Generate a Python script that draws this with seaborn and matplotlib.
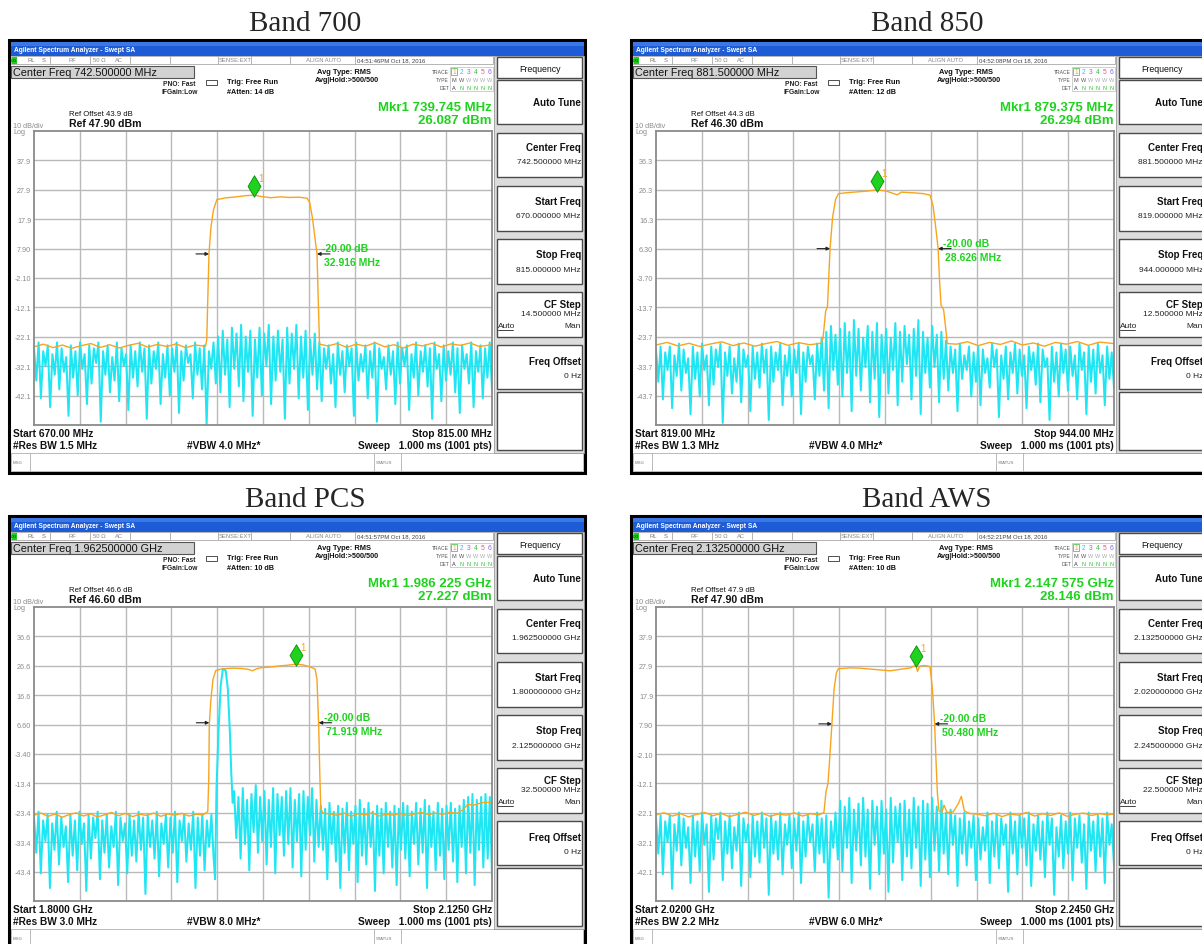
import numpy as np
import matplotlib
matplotlib.use("Agg")
import matplotlib.pyplot as plt
from matplotlib.patches import Rectangle
import seaborn as sns

W, H = 1202, 945

# ---- per band settings ----
titles = ["Band 700", "Band 850", "Band PCS", "Band AWS"]
start_mhz = [670.0, 819.0, 1800.0, 2020.0]
stop_mhz = [815.0, 944.0, 2125.0, 2245.0]
ref_dbm = [47.90, 46.30, 46.60, 47.90]
ytick_labels = [
    ["37.9", "27.9", "17.9", "7.90", "-2.10", "-12.1", "-22.1", "-32.1", "-42.1"],
    ["36.3", "26.3", "16.3", "6.30", "-3.70", "-13.7", "-23.7", "-33.7", "-43.7"],
    ["36.6", "26.6", "16.6", "6.60", "-3.40", "-13.4", "-23.4", "-33.4", "-43.4"],
    ["37.9", "27.9", "17.9", "7.90", "-2.10", "-12.1", "-22.1", "-32.1", "-42.1"],
]
mkr_mhz = [739.745, 879.375, 1986.225, 2147.575]
mkr_dbm = [26.087, 26.294, 27.227, 28.146]
obw_edges = [(725.4, 759.6), (866.5, 896.0), (1924.4, 2002.0), (2106.4, 2156.9)]

center_txt = ["742.500000 MHz", "881.500000 MHz", "1.962500000 GHz", "2.132500000 GHz"]
time_txt = ["04:51:46PM Oct 18, 2016", "04:52:08PM Oct 18, 2016",
            "04:51:57PM Oct 18, 2016", "04:52:21PM Oct 18, 2016"]
atten_txt = ["14 dB", "12 dB", "10 dB", "10 dB"]
ref_offset_txt = ["43.9", "44.3", "46.6", "47.9"]
ref_txt = ["47.90", "46.30", "46.60", "47.90"]
mkr_freq_txt = ["739.745 MHz", "879.375 MHz", "1.986 225 GHz", "2.147 575 GHz"]
mkr_lvl_txt = ["26.087 dBm", "26.294 dBm", "27.227 dBm", "28.146 dBm"]
obw_txt = ["32.916 MHz", "28.626 MHz", "71.919 MHz", "50.480 MHz"]
start_txt = ["670.00 MHz", "819.00 MHz", "1.8000 GHz", "2.0200 GHz"]
stop_txt = ["815.00 MHz", "944.00 MHz", "2.1250 GHz", "2.2450 GHz"]
rbw_txt = ["1.5 MHz", "1.3 MHz", "3.0 MHz", "2.2 MHz"]
vbw_txt = ["4.0 MHz*", "4.0 MHz*", "8.0 MHz*", "6.0 MHz*"]
sk_start = ["670.000000 MHz", "819.000000 MHz", "1.800000000 GHz", "2.020000000 GHz"]
sk_stop = ["815.000000 MHz", "944.000000 MHz", "2.125000000 GHz", "2.245000000 GHz"]
sk_step = ["14.500000 MHz", "12.500000 MHz", "32.500000 MHz", "22.500000 MHz"]

# ---- orange (max hold) traces ----
orange_700_f = list(range(670, 722, 3)) + [724.3,
    724.7, 725.0, 725.4, 726.0, 726.8, 727.9, 731, 734, 737, 739.7, 742, 745, 748, 751, 754, 756.5,
    757.3, 758.2, 759.0, 759.6, 760.0, 760.4] + list(range(763, 812, 3)) + [815]
orange_700_v = [-25.5, -24.6, -25.8, -24.9, -26.0, -25.1, -24.4, -25.7, -24.8, -25.9, -25.0, -24.3,
                -25.6, -24.7, -25.4, -24.5, -25.8, -24.9, -25.3,
                -23, -10, 6.1, 15, 21, 24.6, 25.2, 25.5, 25.9, 26.1, 25.6, 25.2, 25.5, 25.3, 25.4, 25.0,
                23.5, 18, 11, 6.1, -10, -24.6,
                -25.2, -24.4, -25.7, -24.6, -25.3, -24.1, -25.5, -24.8, -25.9, -24.6, -25.2, -24.3,
                -25.6, -24.5, -25.0, -24.2, -25.4, -24.8]

orange_850_f = list(range(819, 865, 3)) + [
    864.6, 865.3, 865.8, 866.1, 866.5, 867.2, 868.0, 868.8, 871, 874, 877, 879.4, 882, 884.8, 886, 889, 892, 893.8,
    894.6, 895.3, 896.0, 896.4, 896.8, 897.5, 898.0, 898.5] + list(range(901, 941, 3)) + [944]
orange_850_v = [-26.5, -25.6, -26.8, -25.9, -27.0, -26.1, -25.4, -26.7, -25.8, -26.9, -26.0, -25.3,
                -26.6, -25.7, -26.4, -25.9,
                -24, -15, -13.5, -5, 6.3, 17, 23, 25.0, 25.3, 25.6, 25.9, 26.3, 25.8, 24.6, 25.5, 25.3, 25.0, 24.5,
                21, 14, 6.3, -5, -13, -14.5, -20, -26,
                -26.2, -25.4, -26.7, -25.6, -26.3, -25.1, -26.5, -25.8, -26.9, -25.6, -26.2, -25.3,
                -26.6, -25.5, -26.0]

orange_pcs_f = list(range(1800, 1921, 5)) + [
    1923.3, 1924.0, 1924.4, 1925.5, 1927.0, 1929.0, 1933, 1940, 1947, 1952, 1955, 1958, 1962, 1968,
    1975, 1980, 1986.2, 1991, 1996, 1999.5,
    2000.8, 2002.0, 2002.8, 2003.5, 2005] + list(range(2010, 2101, 5)) + [2104, 2108, 2112, 2116, 2120, 2125]
orange_pcs_v = [-24.2, -23.5, -24.6, -23.8, -24.9, -24.0, -23.4, -24.5, -23.7, -24.8, -24.1, -23.3,
                -24.4, -23.6, -24.7, -23.9, -24.3, -23.5, -24.6, -23.8, -24.2, -23.6, -24.5, -23.9, -24.1,
                -23, -12, 6.6, 15, 22, 25.0, 25.5, 25.8, 25.7, 25.4, 24.9, 25.6, 26.0, 26.2, 26.6, 26.8,
                27.2, 26.9, 26.2, 25.5,
                22, 6.6, -10, -22, -23.5,
                -23.8, -24.3, -23.5, -24.6, -23.7, -24.1, -23.4, -24.5, -23.9, -24.2, -23.6, -24.4,
                -23.8, -23.3, -24.0, -23.5, -23.9, -23.2, -23.6,
                -22.5, -20.5, -20.8, -20.2, -19.8, -20.0]

orange_aws_f = list(range(2020, 2101, 4)) + [
    2102.5, 2103.5, 2104.5, 2105.2, 2106.4, 2107.5, 2108.6, 2109.6, 2115, 2120, 2125, 2130, 2135, 2140,
    2145, 2147.6, 2148.5, 2149.5, 2152, 2154.6,
    2155.8, 2156.9, 2157.6, 2158.2, 2159.0, 2160.5, 2161.5, 2163, 2166, 2168.5, 2170, 2171.5, 2174
] + list(range(2178, 2243, 4)) + [2245]
orange_aws_v = [-22.8, -22.1, -23.2, -22.4, -23.5, -22.6, -22.0, -23.1, -22.3, -23.4, -22.7, -21.9,
                -23.0, -22.2, -23.3, -22.5, -22.9, -22.1, -23.2, -22.4, -22.8,
                -22, -15, -12, -5, 7.9, 20, 25.5, 26.9, 27.2, 27.1, 26.8, 26.5, 26.2, 26.7, 27.2, 28.1,
                26.0, 27.8, 28.0, 27.6,
                20, 7.9, -5, -15, -21.5, -21.8, -19.5, -22, -21.8, -19, -16.5, -21.5, -22.3,
                -22.6, -23.1, -22.2, -23.4, -22.5, -22.9, -22.0, -23.2, -22.4, -23.0, -22.1, -23.3,
                -22.6, -22.2, -23.0, -22.4, -22.8, -22.5]

# ---- cyan (clear/write) traces, levels in dBm across the sweep ----
cyan_700 = [
    -26, -37, -24, -43, -27, -32, -25, -46, -28, -35, -24, -40, -26, -34, -29, -49, -25, -36, -27, -42,
    -24, -33, -28, -45, -25, -38, -26, -31, -24, -51, -27, -35, -25, -41, -29, -37, -24, -44, -26, -32,
    -28, -47, -25, -36, -27, -39, -24, -34, -26, -50, -25, -38, -27, -33, -24, -45, -28, -36, -25, -42,
    -26, -34, -24, -48, -27, -37, -25, -31, -28, -43, -24, -35, -26, -40, -25, -52, -27, -33, -24, -38,
    -22, -41, -20, -35, -23, -46, -19, -33, -21, -39, -18, -44, -22, -34, -20, -49, -23, -36, -19, -42,
    -21, -32, -18, -45, -22, -37, -20, -34, -23, -50, -19, -38, -21, -33, -18, -43, -22, -36, -20, -47,
    -23, -35, -21, -40, -24, -44, -26, -33, -25, -38, -28, -46, -24, -35, -27, -41, -25, -32, -26, -49,
    -24, -37, -28, -34, -25, -43, -27, -36, -24, -51, -26, -33, -29, -40, -25, -35, -27, -45, -24, -38,
    -26, -32, -25, -47, -28, -36, -24, -42, -27, -34, -25, -39, -26, -50, -24, -33, -28, -44, -25, -37,
    -27, -35, -24, -41, -26, -48, -25, -33, -28, -38, -24, -46, -27, -34, -25, -43, -26, -36, -24, -40]
cyan_850 = [
    -28, -39, -27, -45, -29, -35, -27, -48, -30, -37, -26, -42, -28, -36, -31, -50, -27, -38, -29, -44,
    -26, -35, -30, -47, -27, -40, -28, -34, -26, -53, -29, -37, -27, -43, -31, -39, -26, -46, -28, -34,
    -30, -49, -27, -38, -29, -41, -26, -36, -28, -52, -27, -39, -29, -35, -26, -47, -30, -37, -27, -44,
    -28, -36, -26, -50, -29, -39, -27, -33, -30, -45, -26, -37, -24, -42, -22, -48, -20, -35, -23, -40,
    -21, -44, -19, -36, -22, -49, -18, -37, -21, -42, -24, -34, -20, -46, -22, -38, -19, -51, -23, -36,
    -21, -43, -24, -35, -19, -47, -22, -39, -20, -33, -23, -45, -21, -37, -18, -50, -22, -36, -24, -41,
    -20, -34, -23, -46, -22, -38, -25, -42, -27, -36, -28, -49, -26, -38, -30, -35, -27, -44, -29, -39,
    -27, -47, -28, -36, -31, -41, -26, -34, -28, -51, -30, -38, -27, -45, -29, -36, -26, -43, -28, -37,
    -30, -48, -27, -35, -29, -40, -26, -46, -28, -34, -31, -52, -27, -39, -29, -44, -26, -36, -28, -42,
    -27, -37, -30, -45, -26, -35, -29, -50, -27, -39, -28, -43, -26, -36, -30, -47, -27, -38, -29, -41]
cyan_pcs_left = [
    -25, -37, -23, -44, -26, -33, -24, -49, -27, -36, -23, -41, -25, -35, -28, -47, -24, -38, -26, -43,
    -23, -34, -27, -50, -24, -39, -25, -32, -23, -46, -26, -37, -24, -42, -28, -35, -23, -48, -25, -33,
    -27, -44, -24, -38, -26, -40, -23, -36, -25, -51, -24, -35, -26, -39, -23, -45, -27, -34, -24, -42,
    -25, -37, -23, -47, -26, -33, -24, -40, -27, -36, -23, -49, -25, -38, -24, -43, -26, -35, -24, -39]
cyan_pcs_bump_f = [1928.5, 1929.5, 1931, 1932.5, 1934, 1936, 1937.5, 1939, 1940, 1941]
cyan_pcs_bump_v = [-46, -15, 5, 20, 25.5, 25, 19, 4, -10, -20]
cyan_pcs_right = [
    -16, -32, -18, -39, -15, -34, -19, -43, -17, -30, -14, -37, -18, -33, -16, -41, -19, -35, -15, -44,
    -17, -31, -18, -38, -16, -34, -15, -42, -19, -33, -17, -45, -16, -36, -18, -31, -15, -40, -19, -35,
    -21, -36, -22, -46, -20, -34, -23, -40, -21, -49, -22, -37, -20, -43, -23, -34, -21, -47, -19, -38,
    -22, -41, -20, -35, -23, -50, -21, -38, -22, -44, -20, -35, -23, -42, -21, -48, -22, -36, -20, -39,
    -21, -45, -23, -34, -20, -41, -22, -37, -19, -49, -21, -35, -23, -43, -20, -38, -22, -46, -21, -36,
    -20, -40, -22, -47, -21, -35, -19, -44, -18, -37, -17, -48, -19, -36, -18, -42, -17, -39, -18, -45]
cyan_aws = [
    -24, -36, -23, -43, -25, -32, -23, -48, -26, -35, -22, -40, -24, -34, -27, -46, -23, -37, -25, -42,
    -22, -33, -26, -49, -23, -38, -24, -31, -22, -45, -25, -36, -23, -41, -27, -35, -22, -47, -24, -32,
    -26, -44, -23, -37, -25, -39, -22, -34, -24, -50, -23, -36, -25, -38, -22, -43, -26, -33, -23, -41,
    -24, -35, -22, -46, -25, -37, -23, -32, -26, -42, -22, -36, -24, -39, -23, -51, -25, -34, -22, -38,
    -18, -42, -20, -34, -17, -46, -21, -35, -19, -40, -17, -37, -21, -48, -18, -33, -20, -43, -18, -36,
    -21, -49, -17, -39, -20, -32, -19, -45, -18, -37, -21, -41, -17, -34, -20, -47, -18, -38, -19, -44,
    -17, -35, -20, -42, -18, -36, -22, -43, -21, -33, -23, -47, -24, -36, -22, -40, -25, -34, -23, -45,
    -24, -38, -27, -35, -22, -46, -25, -37, -23, -41, -24, -33, -26, -49, -22, -36, -25, -43, -23, -34,
    -24, -40, -22, -47, -26, -35, -23, -38, -25, -44, -22, -33, -24, -50, -27, -37, -23, -41, -25, -36,
    -22, -45, -24, -34, -23, -39, -26, -48, -22, -35, -25, -42, -23, -37, -24, -46, -22, -33, -26, -40]

orange_f = [orange_700_f, orange_850_f, orange_pcs_f, orange_aws_f]
orange_v = [orange_700_v, orange_850_v, orange_pcs_v, orange_aws_v]
cyan_f = [np.linspace(670, 815, len(cyan_700)),
          np.linspace(819, 944, len(cyan_850)),
          np.concatenate([np.linspace(1800, 1927.5, len(cyan_pcs_left)), cyan_pcs_bump_f,
                          np.linspace(1942, 2125, len(cyan_pcs_right))]),
          np.linspace(2020, 2245, len(cyan_aws))]
cyan_v = [cyan_700, cyan_850, cyan_pcs_left + cyan_pcs_bump_v + cyan_pcs_right, cyan_aws]

origins = [(9, 41), (631, 41), (9, 517), (631, 517)]

ORANGE = "#f7a51f"
CYAN = "#1fe6f2"
GREEN = "#1ed21e"

sns.set_style("white")
SANS = ["Liberation Sans", "DejaVu Sans"]
SERIF = ["Liberation Serif", "DejaVu Serif"]
plt.rcParams["font.family"] = SANS


def txt(ax, x, y, s, size, color="black", ha="left", weight="normal", family=None):
    ax.text(x, y, s, fontsize=size, color=color, ha=ha, va="center",
            fontweight=weight, family=family or SANS, zorder=5)


def box(ax, x, y, w, h, fc, ec="none", lw=0.8, z=2):
    ax.add_patch(Rectangle((x, y), w, h, facecolor=fc, edgecolor=ec, lw=lw, zorder=z))


def draw_chrome(bg, ox, oy, i):
    bg.text(ox + 296, oy - 10, titles[i], fontsize=21, family=SERIF, ha="center", va="baseline")
    box(bg, ox, oy, 576, 433, "white", "black", 2.2, 1)
    # title bar
    box(bg, ox + 1.5, oy + 1.5, 573, 14, "#1d5cd6")
    box(bg, ox + 1.5, oy + 1.5, 573, 4, "#3a78e6")
    txt(bg, ox + 5, oy + 9, "Agilent Spectrum Analyzer - Swept SA", 4.8, "white", weight="bold")
    # status row
    box(bg, ox + 2, oy + 16, 482, 8, "white", "#a8a8a8", 0.6)
    box(bg, ox + 2.5, oy + 16.5, 5, 7, "#22cc22", z=3)
    txt(bg, ox + 5, oy + 20, "LXI", 2.8, "#003300", ha="center")
    txt(bg, ox + 18, oy + 20, "RL", 4.2, "#777777")
    txt(bg, ox + 33, oy + 20, "S", 4.2, "#777777")
    for dx in (41, 81, 121, 161, 209, 242, 281, 346):
        bg.plot([ox + dx, ox + dx], [oy + 16, oy + 24], color="#a8a8a8", lw=0.6, zorder=3)
    txt(bg, ox + 63, oy + 20, "RF", 4.2, "#888888", ha="center")
    txt(bg, ox + 90, oy + 20, "50 Ω", 4.2, "#888888", ha="center")
    txt(bg, ox + 110, oy + 20, "AC", 4.2, "#888888", ha="center")
    txt(bg, ox + 226, oy + 20, "SENSE:EXT", 4.2, "#888888", ha="center")
    txt(bg, ox + 314, oy + 20, "ALIGN AUTO", 4.2, "#888888", ha="center")
    txt(bg, ox + 348, oy + 20, time_txt[i], 4.3, "#444444")
    # header area
    box(bg, ox + 1.5, oy + 26, 183, 12, "#d2d2d2", "#555555", 0.8)
    txt(bg, ox + 4, oy + 32, "Center Freq " + center_txt[i], 7.8, "#111111")
    txt(bg, ox + 154, oy + 43, "PNO: Fast", 4.8, "#222222", weight="bold")
    box(bg, ox + 197, oy + 40, 11, 5, "white", "#333333", 0.6, 3)
    txt(bg, ox + 152, oy + 52, "IFGain:Low", 4.8, "#222222", weight="bold")
    txt(bg, ox + 218, oy + 41, "Trig: Free Run", 5.4, "#111111", weight="bold")
    txt(bg, ox + 218, oy + 51, "#Atten: " + atten_txt[i], 5.2, "#111111", weight="bold")
    txt(bg, ox + 308, oy + 32, "Avg Type: RMS", 5.4, "#111111", weight="bold")
    txt(bg, ox + 306, oy + 40, "Avg|Hold:>500/500", 5.2, "#111111", weight="bold")
    txt(bg, ox + 440, oy + 31, "TRACE", 3.6, "#555555", ha="right")
    txt(bg, ox + 440, oy + 39, "TYPE", 3.6, "#555555", ha="right")
    txt(bg, ox + 440, oy + 47, "DET", 3.6, "#555555", ha="right")
    box(bg, ox + 441, oy + 27, 43, 24, "white", "#bbbbbb", 0.5)
    box(bg, ox + 442, oy + 27.5, 6, 7, "white", "#30c030", 0.5, 3)
    trace_cols = ["#f0a020", "#20c8f0", "#e040e0", "#30c030", "#f05080", "#8060f0"]
    for k, c in enumerate(trace_cols):
        xk = ox + 445 + 7.2 * k
        txt(bg, xk, oy + 31, str(k + 1), 4.8, c, ha="center")
        txt(bg, xk, oy + 39, "M" if k == 0 else "W", 4.0, "#555555" if k < 2 else "#aaaaaa", ha="center")
        txt(bg, xk, oy + 47, "A" if k == 0 else "N", 4.0, "#333333" if k == 0 else "#30c030", ha="center")
    txt(bg, ox + 483, oy + 67, "Mkr1 " + mkr_freq_txt[i], 9.5, GREEN, ha="right", weight="bold")
    txt(bg, ox + 483, oy + 80, mkr_lvl_txt[i], 9.5, GREEN, ha="right", weight="bold")
    txt(bg, ox + 60, oy + 73, "Ref Offset " + ref_offset_txt[i] + " dB", 5.6, "#111111")
    txt(bg, ox + 60, oy + 83, "Ref " + ref_txt[i] + " dBm", 7.6, "#111111", weight="bold")
    txt(bg, ox + 4, oy + 85, "10 dB/div", 5.2, "#8a8a8a")
    txt(bg, ox + 4, oy + 91, "Log", 5.2, "#8a8a8a")
    # bottom annotations
    txt(bg, ox + 4, oy + 393, "Start " + start_txt[i], 7.3, "#111111", weight="bold")
    txt(bg, ox + 4, oy + 405, "#Res BW " + rbw_txt[i], 7.3, "#111111", weight="bold")
    txt(bg, ox + 178, oy + 405, "#VBW " + vbw_txt[i], 7.3, "#111111", weight="bold")
    txt(bg, ox + 483, oy + 393, "Stop " + stop_txt[i], 7.3, "#111111", ha="right", weight="bold")
    txt(bg, ox + 483, oy + 405, "Sweep   1.000 ms (1001 pts)", 7.3, "#111111", ha="right", weight="bold")
    # message bar
    box(bg, ox + 2, oy + 413, 572, 18, "white", "#b0b0b0", 0.6)
    for dx in (21, 365, 392):
        bg.plot([ox + dx, ox + dx], [oy + 413, oy + 431], color="#b0b0b0", lw=0.6, zorder=3)
    txt(bg, ox + 4, oy + 422, "MSG", 3.2, "#777777")
    txt(bg, ox + 367, oy + 422, "STATUS", 3.2, "#777777")
    # softkey panel
    box(bg, ox + 485, oy + 16, 89.5, 397, "#dcdcdc", "#9a9a9a", 0.6)
    keys = [(17, 38), (40, 84), (93, 137), (146, 191), (199, 244), (252, 297), (305, 349), (352, 410)]
    for y0, y1 in keys:
        box(bg, ox + 488, oy + y0, 85, y1 - y0, "white", "#4a4a4a", 1.0, 3)
    txt(bg, ox + 531, oy + 28, "Frequency", 6.3, "#111111", ha="center")
    rx = ox + 572
    txt(bg, rx, oy + 62, "Auto Tune", 7.0, "#111111", ha="right", weight="bold")
    txt(bg, rx, oy + 107, "Center Freq", 7.0, "#111111", ha="right", weight="bold")
    txt(bg, rx, oy + 122, center_txt[i], 6.0, "#222222", ha="right")
    txt(bg, rx, oy + 161, "Start Freq", 7.0, "#111111", ha="right", weight="bold")
    txt(bg, rx, oy + 176, sk_start[i], 6.0, "#222222", ha="right")
    txt(bg, rx, oy + 214, "Stop Freq", 7.0, "#111111", ha="right", weight="bold")
    txt(bg, rx, oy + 229, sk_stop[i], 6.0, "#222222", ha="right")
    txt(bg, rx, oy + 264, "CF Step", 7.0, "#111111", ha="right", weight="bold")
    txt(bg, rx, oy + 274, sk_step[i], 6.0, "#222222", ha="right")
    txt(bg, ox + 489, oy + 285, "Auto", 6.0, "#222222")
    bg.plot([ox + 489, ox + 504], [oy + 289.5, oy + 289.5], color="#222222", lw=0.6, zorder=5)
    txt(bg, rx, oy + 285, "Man", 6.0, "#222222", ha="right")
    txt(bg, rx, oy + 321, "Freq Offset", 7.0, "#111111", ha="right", weight="bold")
    txt(bg, rx, oy + 336, "0 Hz", 6.0, "#222222", ha="right")


def draw_traces(ax, i):
    ref = ref_dbm[i]
    sns.lineplot(x=cyan_f[i], y=cyan_v[i], ax=ax, color=CYAN, lw=1.45,
                 estimator=None, sort=False, legend=False)
    sns.lineplot(x=orange_f[i], y=orange_v[i], ax=ax, color=ORANGE, lw=1.0,
                 estimator=None, sort=False, legend=False)
    ax.set_xlim(start_mhz[i], stop_mhz[i])
    ax.set_ylim(ref - 100, ref)
    ax.set_xticks(np.linspace(start_mhz[i], stop_mhz[i], 11)[1:-1])
    ax.set_xticklabels([])
    ax.set_yticks([ref - 10 * k for k in range(1, 10)])
    ax.set_yticklabels(ytick_labels[i])
    ax.tick_params(length=0, labelsize=5.2, labelcolor="#8c8c8c", pad=2)
    ax.grid(True, color="#b9b9b9", lw=1.0)
    ax.set_axisbelow(True)
    for sp in ax.spines.values():
        sp.set_color("#8a8a8a")
        sp.set_linewidth(1.3)
    ax.set_xlabel("")
    ax.set_ylabel("")

    # marker 1
    mf, md = mkr_mhz[i], mkr_dbm[i]
    sns.scatterplot(x=[mf], y=[md + 3.1], ax=ax, marker="d", s=120, color=GREEN,
                    edgecolor="#0b8a0b", linewidth=0.6, zorder=6, legend=False)
    ax.annotate("1", xy=(mf, md + 3.1), xytext=(7, 8), textcoords="offset pixels",
                color=ORANGE, fontsize=7, ha="center", va="center")

    # occupied bandwidth arrows at -20 dB
    lvl = md - 20
    lo, hi = obw_edges[i]
    arr = dict(arrowstyle="-|>", color="#222222", lw=0.8, mutation_scale=5, shrinkA=0, shrinkB=0)
    ax.annotate("", xy=(lo, lvl), xytext=(-13, 0), textcoords="offset pixels", arrowprops=arr)
    ax.annotate("", xy=(hi, lvl), xytext=(13, 0), textcoords="offset pixels", arrowprops=arr)
    ax.annotate("-20.00 dB", xy=(hi, lvl), xytext=(5, 6), textcoords="offset pixels",
                color=GREEN, fontsize=7.5, fontweight="bold", va="center")
    ax.annotate(obw_txt[i], xy=(hi, lvl), xytext=(7, -8), textcoords="offset pixels",
                color=GREEN, fontsize=7.5, fontweight="bold", va="center")


fig = plt.figure(figsize=(W / 100, H / 100), dpi=100)
bg = fig.add_axes([0, 0, 1, 1])
bg.set_xlim(0, W)
bg.set_ylim(H, 0)
bg.axis("off")

for i, (ox, oy) in enumerate(origins):
    draw_chrome(bg, ox, oy, i)
    ax = fig.add_axes([(ox + 25) / W, 1 - (oy + 385) / H, 458 / W, 294 / H])
    draw_traces(ax, i)

fig.savefig("out.png", dpi=100)
